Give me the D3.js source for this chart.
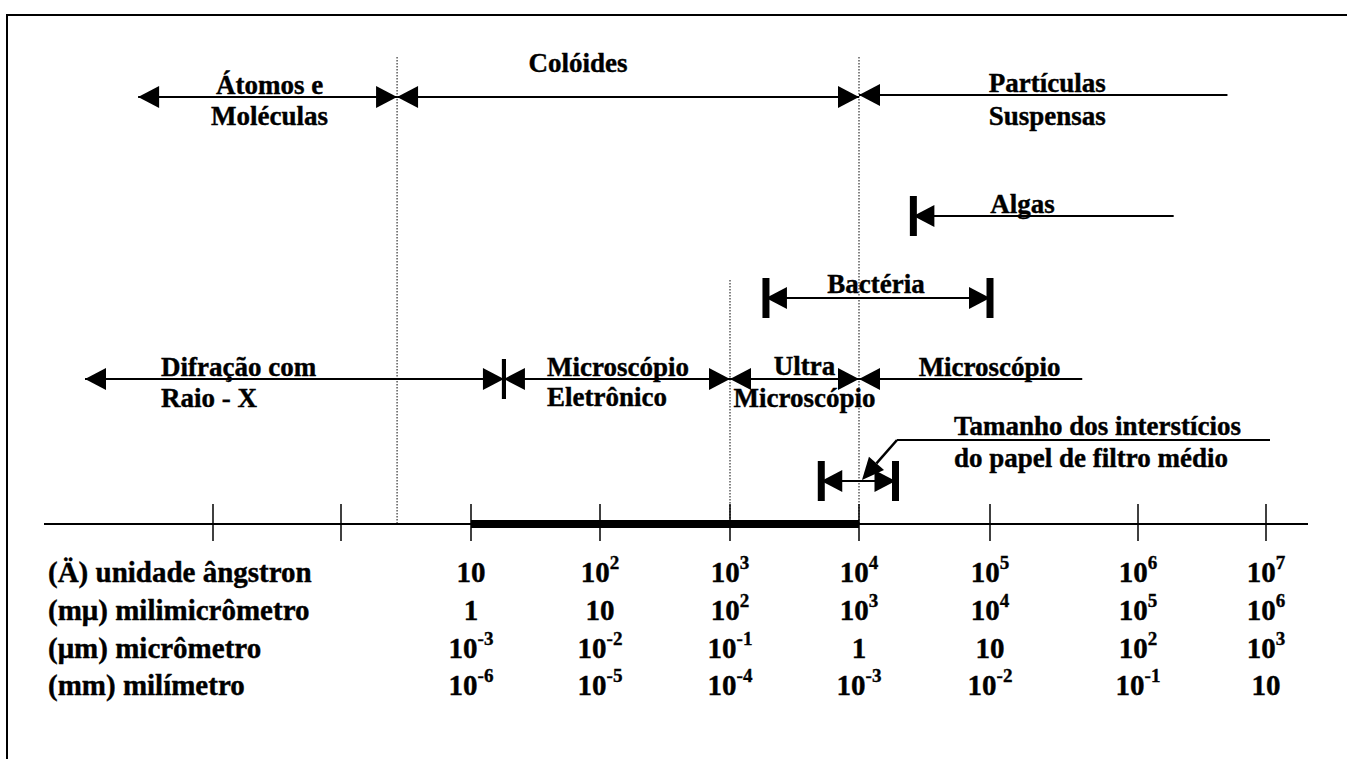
<!DOCTYPE html>
<html>
<head>
<meta charset="utf-8">
<script src="https://cdn.jsdelivr.net/npm/d3@7"></script>
<style>
  body { margin: 0; background: #fff; }
  text { font-family: "Liberation Serif", "Times New Roman", serif; font-weight: bold; fill: #000; stroke: #000; stroke-width: 0.4; }
</style>
</head>
<body>
<svg id="svg" width="1347" height="759"></svg>
<script>
// tamanhos em angstrom (escala log)
var axisTicks = [0.1, 1, 10, 100, 1e3, 1e4, 1e5, 1e6, 1e7];
var labelTicks = [10, 100, 1e3, 1e4, 1e5, 1e6, 1e7];

var unitNames = ["(Ä) unidade ângstron", "(mμ) milimicrômetro", "(μm) micrômetro", "(mm) milímetro"];
var angstromExp = [1, 2, 3, 4, 5, 6, 7];
var milimicroExp = [0, 1, 2, 3, 4, 5, 6];
var microExp = [-3, -2, -1, 0, 1, 2, 3];
var milimetroExp = [-6, -5, -4, -3, -2, -1, 1];

var rangeNames = [
  ["Átomos e", "Moléculas"], ["Colóides"], ["Partículas", "Suspensas"],
  ["Algas"], ["Bactéria"],
  ["Difração com", "Raio - X"], ["Microscópio", "Eletrônico"], ["Ultra", "Microscópio"], ["Microscópio"],
  ["Tamanho dos interstícios", "do papel de filtro médio"]
];
var rangeFrom = [0.026, 2.7, 1e4, 2.6e4, 1.9e3, 0.01, 18, 1e3, 1e4, 5.1e3];
var rangeTo   = [2.7, 1e4, 5e6, 1.9e6, 1e5, 18, 1e3, 1e4, 4.2e5, 1.9e4];

var dividers = [2.7, 1e4, 1e3];
var colloidBand = [10, 1e4];

(function () {
  var svg = d3.select("#svg");
  // escala desenhada a mão: as décadas não têm todas a mesma largura
  var x = d3.scaleLog().domain(axisTicks)
    .range([213, 341, 471, 600, 730, 859, 990, 1138, 1266]);
  var axisY = 524;

  // moldura
  svg.append("path").attr("d", "M7,759V15H1347")
    .attr("fill", "none").attr("stroke", "#000").attr("stroke-width", 2);

  // linhas pontilhadas
  var dividerTop = [57, 57, 280];
  dividers.forEach(function (v, i) {
    svg.append("line")
      .attr("x1", x(v)).attr("x2", x(v))
      .attr("y1", dividerTop[i]).attr("y2", axisY)
      .attr("stroke", "#333").attr("stroke-width", 1.2)
      .attr("stroke-dasharray", "1.5,1.5");
  });

  function head(xt, y, dir) {
    // dir -1 = aponta para esquerda, +1 = direita
    var L = 21, H = 11;
    svg.append("path")
      .attr("d", "M" + xt + "," + y + "L" + (xt - dir * L) + "," + (y - H) + "L" + (xt - dir * L) + "," + (y + H) + "Z")
      .attr("fill", "#000");
  }
  function bar(xb, y, h, w) {
    svg.append("line").attr("x1", xb).attr("x2", xb)
      .attr("y1", y - h / 2).attr("y2", y + h / 2)
      .attr("stroke", "#000").attr("stroke-width", w);
  }

  var layout = [
    { y: 97, left: "head", right: "head", dx: 2, dy: [-3, 28] },
    { y: 97, left: "head", right: "head", dx: -50, dy: [-25] },
    { y: 95, left: "head", right: "none", dx: 4, dy: [-3, 30] },
    { y: 216, left: "bar", right: "none", dx: -21, dy: [-3] },
    { y: 298, left: "bar", right: "bar", dx: -2, dy: [-5] },
    { y: 379, left: "head", right: "thinbar", start: 76, dy: [-3, 28] },
    { y: 379, left: "thinbar", right: "head", start: 43, dy: [-3, 27] },
    { y: 379, left: "head", right: "head", dx: 10, dy: [-4, 28] },
    { y: 379, left: "head", right: "none", dx: 19, dy: [-3] },
    { y: 481, left: "bar", right: "bar", label: [954, 435], dy: [0, 32] }
  ];

  rangeNames.forEach(function (names, i) {
    var lay = layout[i];
    var x1 = x(rangeFrom[i]), x2 = x(rangeTo[i]), y = lay.y;
    svg.append("line").attr("x1", x1).attr("x2", x2).attr("y1", y).attr("y2", y)
      .attr("stroke", "#000").attr("stroke-width", 2);
    if (lay.left === "head") head(x1, y, -1);
    if (lay.left === "bar") { head(x1, y, -1); bar(x1, y, 40, 7); }
    if (lay.left === "thinbar") { head(x1, y, -1); bar(x1, y, 40, 4); }
    if (lay.right === "head") head(x2, y, 1);
    if (lay.right === "bar") { head(x2, y, 1); bar(x2, y, 40, 7); }
    if (lay.right === "thinbar") { head(x2, y, 1); bar(x2, y, 40, 4); }

    var t = svg.append("text").attr("font-size", 27);
    var tx, ty;
    if (lay.label) { tx = lay.label[0]; ty = lay.label[1]; t.attr("text-anchor", "start"); }
    else if (lay.start !== undefined) { tx = x1 + lay.start; ty = y; t.attr("text-anchor", "start"); }
    else { tx = (x1 + x2) / 2 + lay.dx; ty = y; t.attr("text-anchor", "middle"); }
    names.forEach(function (s, j) {
      t.append("tspan").attr("x", tx).attr("y", ty + lay.dy[j]).text(s);
    });
  });

  // chamada do papel de filtro
  var fy = 440, fx0 = 897;
  svg.append("line").attr("x1", fx0).attr("x2", 1270).attr("y1", fy).attr("y2", fy)
    .attr("stroke", "#000").attr("stroke-width", 2);
  var tipX = 862, tipY = 480;
  var ang = Math.atan2(tipY - fy, tipX - fx0);
  var hl = 22, hw = 10;
  var bx = tipX - hl * Math.cos(ang), by = tipY - hl * Math.sin(ang);
  svg.append("line").attr("x1", fx0).attr("y1", fy).attr("x2", bx).attr("y2", by)
    .attr("stroke", "#000").attr("stroke-width", 2.5);
  svg.append("path")
    .attr("d", "M" + tipX + "," + tipY +
      "L" + (bx + hw * Math.sin(ang)) + "," + (by - hw * Math.cos(ang)) +
      "L" + (bx - hw * Math.sin(ang)) + "," + (by + hw * Math.cos(ang)) + "Z")
    .attr("fill", "#000");

  // eixo
  svg.append("line").attr("x1", 44).attr("x2", 1308).attr("y1", axisY).attr("y2", axisY)
    .attr("stroke", "#000").attr("stroke-width", 2);
  svg.append("line").attr("x1", x(colloidBand[0])).attr("x2", x(colloidBand[1]))
    .attr("y1", axisY).attr("y2", axisY)
    .attr("stroke", "#000").attr("stroke-width", 8);
  svg.selectAll("line.tick").data(axisTicks).enter().append("line")
    .attr("class", "tick")
    .attr("x1", function (d) { return x(d); }).attr("x2", function (d) { return x(d); })
    .attr("y1", axisY - 20).attr("y2", axisY + 17)
    .attr("stroke", "#000").attr("stroke-width", 1.5);

  // linhas de unidades
  var rowY = [582, 620, 658, 695];
  var rowExp = [angstromExp, milimicroExp, microExp, milimetroExp];
  unitNames.forEach(function (name, r) {
    svg.append("text").attr("x", 48).attr("y", rowY[r]).attr("font-size", 29).text(name);
    labelTicks.forEach(function (v, i) {
      var e = rowExp[r][i];
      var t = svg.append("text").attr("x", x(v)).attr("y", rowY[r])
        .attr("font-size", 29).attr("text-anchor", "middle");
      if (e === 0) t.text("1");
      else if (e === 1) t.text("10");
      else {
        t.text("10");
        t.append("tspan").attr("dy", -13).attr("font-size", 19).text(e);
      }
    });
  });
})();
</script>
</body>
</html>
